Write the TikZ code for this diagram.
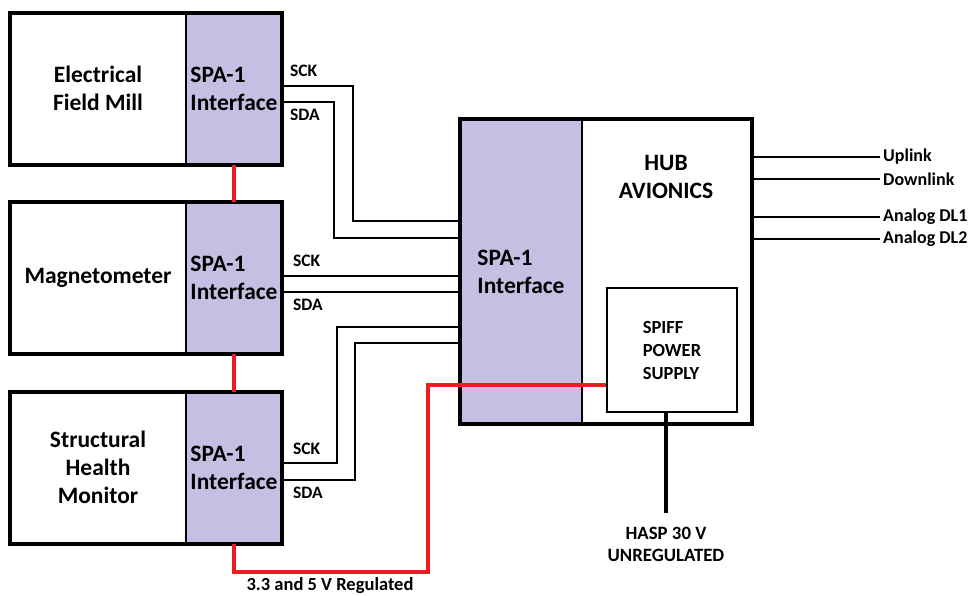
\documentclass[tikz,border=0pt]{standalone}
\usepackage{fontspec}
\setmainfont{Carlito}
\usetikzlibrary{positioning}
\definecolor{spapurple}{HTML}{C6BFE3}
\definecolor{pwrred}{HTML}{ED1C24}

\begin{document}
\begin{tikzpicture}[x=1pt, y=-1pt,
    device/.style={draw, line width=2.5pt, fill=white, minimum width=176pt,
                   minimum height=152pt, inner sep=0pt, outer sep=0pt, align=center,
                   font=\bfseries\fontsize{23.5}{28}\selectfont},
    iface/.style={draw, line width=2.5pt, fill=spapurple, minimum width=96pt,
                  minimum height=152pt, inner sep=0pt, outer sep=0pt, align=left,
                  font=\bfseries\fontsize{23.5}{28}\selectfont},
    psu/.style={draw, line width=2pt, fill=white, minimum width=130pt,
                minimum height=124pt, inner sep=0pt, align=left,
                font=\bfseries\fontsize{18.5}{23}\selectfont},
    outline/.style={draw, line width=4pt},
    sig/.style={line width=2pt},
    pwr/.style={pwrred, line width=3.5pt},
    lbl/.style={font=\bfseries\fontsize{17.5}{22}\selectfont, inner sep=2pt},
    outlbl/.style={font=\bfseries\fontsize{18}{20}\selectfont, inner sep=3pt, anchor=west}]
  \useasboundingbox (0,0) rectangle (974,595);
  % sensor boxes
  \node[device] (efm) at (98,88.5) {Electrical\\Field Mill};
  \node[iface, right=0pt of efm] (efmspa) {SPA-1\\Interface};
  \node[device] (mag) at (98,277.5) {Magnetometer};
  \node[iface, right=0pt of mag] (magspa) {SPA-1\\Interface};
  \node[device] (shm) at (98,467.5) {Structural\\Health\\Monitor};
  \node[iface, right=0pt of shm] (shmspa) {SPA-1\\Interface};
  % hub
  \node[iface, minimum width=122pt, minimum height=305pt] (hubspa) at (521,271.5) {SPA-1\\Interface};
  \node[device, minimum width=170pt, minimum height=305pt, right=0pt of hubspa] (hub) {};
  \node[font=\bfseries\fontsize{23.5}{28}\selectfont, align=center] (hubname) at (666,177) {HUB\\AVIONICS};
  \node[psu] (spiff) at (672,350) {SPIFF\\POWER\\SUPPLY};
  % bus lines
  \draw[sig] (efmspa.east |- 0,86) -| (353,221) -- (hubspa.west |- 0,221);
  \draw[sig] (efmspa.east |- 0,102) -| (334,238) -- (hubspa.west |- 0,238);
  \draw[sig] (magspa.east |- 0,276) -- (hubspa.west |- 0,276);
  \draw[sig] (magspa.east |- 0,292) -- (hubspa.west |- 0,292);
  \draw[sig] (shmspa.east |- 0,463) -| (337,327) -- (hubspa.west |- 0,327);
  \draw[sig] (shmspa.east |- 0,480) -| (355,343) -- (hubspa.west |- 0,343);
  \node[lbl, anchor=west] (sck1) at (288,71) {SCK};
  \node[lbl, anchor=west] (sda1) at (288,115) {SDA};
  \node[lbl, anchor=west] (sck2) at (291,261) {SCK};
  \node[lbl, anchor=west] (sda2) at (291,305) {SDA};
  \node[lbl, anchor=west] (sck3) at (291,449) {SCK};
  \node[lbl, anchor=west] (sda3) at (291,493) {SDA};
  % outputs
  \node[outlbl] (up) at (880,157) {Uplink};
  \node[outlbl] (down) at (880,179) {Downlink};
  \node[outlbl] (dl1) at (880,217) {Analog DL1};
  \node[outlbl] (dl2) at (880,239) {Analog DL2};
  \draw[sig] (hub.east |- up) -- (up.west);
  \draw[sig] (hub.east |- down) -- (down.west);
  \draw[sig] (hub.east |- dl1) -- (dl1.west);
  \draw[sig] (hub.east |- dl2) -- (dl2.west);
  % hasp supply
  \node[font=\bfseries\fontsize{18.8}{22}\selectfont, align=center] (hasp) at (666,544) {HASP 30 V\\UNREGULATED};
  \coordinate (haspend) at (666,513);
  \draw[line width=4pt] (spiff.south -| haspend) -- (haspend);
  % frames
  \draw[outline] (efm.north west) rectangle (efmspa.south east);
  \draw[outline] (mag.north west) rectangle (magspa.south east);
  \draw[outline] (shm.north west) rectangle (shmspa.south east);
  \draw[outline] (hubspa.north west) rectangle (hub.south east);
  % regulated power
  \draw[pwr] (efmspa.south) -- (magspa.north);
  \draw[pwr] (magspa.south) -- (shmspa.north);
  \draw[pwr] (shmspa.south) |- (428,572) |- (spiff.west |- 0,385);
  \node[lbl, font=\bfseries\fontsize{18.5}{22}\selectfont] (reg) at (330,586) {3.3 and 5 V Regulated};
\end{tikzpicture}
\end{document}
